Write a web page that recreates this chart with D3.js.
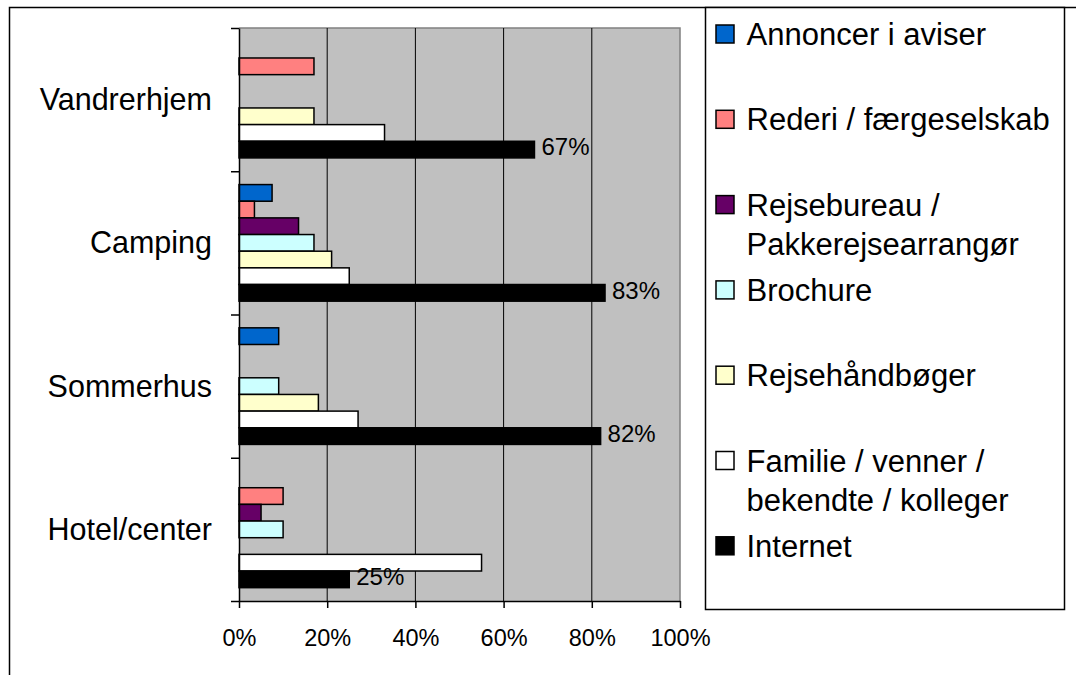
<!DOCTYPE html>
<html>
<head>
<meta charset="utf-8">
<script src="https://cdn.jsdelivr.net/npm/d3@7"></script>
<style>
  html, body { margin: 0; padding: 0; background: #fff; }
  svg { display: block; font-family: "Liberation Sans", Arial, sans-serif; }
</style>
</head>
<body>
<svg id="chart" width="1076" height="675"></svg>
<script>
// ---- data ----
const categories = ["Vandrerhjem", "Camping", "Sommerhus", "Hotel/center"];
const seriesNames = [
  "Annoncer i aviser",
  "Rederi / færgeselskab",
  "Rejsebureau /\nPakkerejsearrangør",
  "Brochure",
  "Rejsehåndbøger",
  "Familie / venner /\nbekendte / kolleger",
  "Internet"
];
const seriesColors = ["#0066CC", "#FF8080", "#660066", "#CCFFFF", "#FFFFCC", "#FFFFFF", "#000000"];
const annoncer        = [0, 7.5, 9, 0];
const rederi          = [17, 3.5, 0, 10];
const rejsebureau     = [0, 13.5, 0, 5];
const brochure        = [0, 17, 9, 10];
const rejsehaandboger = [17, 21, 18, 0];
const familie         = [33, 25, 27, 55];
const internet        = [67, 83, 82, 25];
const seriesValues = [annoncer, rederi, rejsebureau, brochure, rejsehaandboger, familie, internet];
const labelledSeries = 6; // Internet carries data labels
const xTicks = [0, 20, 40, 60, 80, 100];

// ---- layout ----
const svg = d3.select("#chart");
const plot = { left: 239, right: 680, top: 28, bottom: 601 };

// outer frame
svg.append("rect")
  .attr("x", 9.5).attr("y", 7.5).attr("width", 1200).attr("height", 800)
  .attr("fill", "#fff").attr("stroke", "#000").attr("stroke-width", 1.5);

const x = d3.scaleLinear().domain([0, 100]).range([plot.left, plot.right]);
const y = d3.scaleBand().domain(categories).range([plot.top, plot.bottom]).padding(0);
const yInner = d3.scaleBand().domain(d3.range(seriesNames.length))
  .range([0, y.bandwidth()]).paddingInner(0).paddingOuter(0.8);

// plot background
svg.append("rect")
  .attr("x", plot.left).attr("y", plot.top)
  .attr("width", plot.right - plot.left).attr("height", plot.bottom - plot.top)
  .attr("fill", "#C0C0C0");
// plot border top/right grey
svg.append("path")
  .attr("d", `M${plot.left},${plot.top}H${plot.right}V${plot.bottom}`)
  .attr("fill", "none").attr("stroke", "#808080").attr("stroke-width", 1.5);

// gridlines
svg.append("g").selectAll("line").data(xTicks.filter(t => t > 0 && t < 100)).join("line")
  .attr("x1", d => x(d)).attr("x2", d => x(d))
  .attr("y1", plot.top).attr("y2", plot.bottom)
  .attr("stroke", "#000").attr("stroke-width", 1);

// bars
const groups = svg.append("g").selectAll("g").data(categories).join("g")
  .attr("transform", d => `translate(0,${y(d)})`);
groups.each(function(cat, ci) {
  const g = d3.select(this);
  seriesValues.forEach((vals, si) => {
    const v = vals[ci];
    if (v > 0) {
      g.append("rect")
        .attr("x", x(0)).attr("y", yInner(si))
        .attr("width", x(v) - x(0)).attr("height", yInner.bandwidth())
        .attr("fill", seriesColors[si]).attr("stroke", "#000").attr("stroke-width", 1.5);
    }
    if (si === labelledSeries) {
      g.append("text")
        .attr("x", x(v) + 7)
        .attr("y", yInner(si) + yInner.bandwidth() / 2 + 5.9)
        .attr("font-size", 24).attr("fill", "#000")
        .text(v + "%");
    }
  });
});

// x axis
const xAxis = svg.append("g")
  .attr("transform", `translate(0,${plot.bottom})`)
  .call(d3.axisBottom(x).tickValues(xTicks).tickFormat(d => d + "%").tickSize(7).tickSizeOuter(0));
xAxis.select(".domain").attr("stroke", "#000").attr("stroke-width", 1.5);
xAxis.selectAll(".tick line").attr("stroke", "#000").attr("stroke-width", 1.5);
xAxis.selectAll(".tick text")
  .attr("font-family", "Liberation Sans, Arial, sans-serif")
  .attr("font-size", 23.5).attr("fill", "#000").attr("dy", null).attr("y", 44.7);

// y axis (ticks at category boundaries)
const yB = d3.scaleLinear().domain([0, categories.length]).range([plot.top, plot.bottom]);
const yAxis = svg.append("g")
  .attr("transform", `translate(${plot.left},0)`)
  .call(d3.axisLeft(yB).tickValues(d3.range(categories.length + 1)).tickFormat("").tickSize(8).tickSizeOuter(0));
yAxis.select(".domain").attr("stroke", "#000").attr("stroke-width", 1.5);
yAxis.selectAll(".tick line").attr("stroke", "#000").attr("stroke-width", 1.5);

// category labels
svg.append("g").selectAll("text").data(categories).join("text")
  .attr("x", 212).attr("y", d => y(d) + y.bandwidth() / 2 + 10.5)
  .attr("text-anchor", "end").attr("font-size", 30.5).attr("fill", "#000")
  .text(d => d);

// legend
const legend = { x0: 705, x1: 1064, y0: 7, y1: 609, first: 34, step: 85.3 };
svg.append("rect")
  .attr("x", legend.x0 + 0.5).attr("y", legend.y0 + 0.5)
  .attr("width", legend.x1 - legend.x0).attr("height", legend.y1 - legend.y0)
  .attr("fill", "#fff").attr("stroke", "#000").attr("stroke-width", 1.5);
const items = svg.append("g").selectAll("g").data(seriesNames).join("g")
  .attr("transform", (d, i) => `translate(0,${legend.first + i * legend.step})`);
items.append("rect")
  .attr("x", 716).attr("y", -9).attr("width", 18).attr("height", 18)
  .attr("fill", (d, i) => seriesColors[i]).attr("stroke", "#000").attr("stroke-width", 1.5);
items.each(function(d) {
  const t = d3.select(this).append("text")
    .attr("x", 746.5).attr("y", 11).attr("font-size", 31).attr("fill", "#000");
  d.split("\n").forEach((line, li) => {
    t.append("tspan").attr("x", 746.5).attr("dy", li === 0 ? 0 : 39).text(line);
  });
});
</script>
</body>
</html>
